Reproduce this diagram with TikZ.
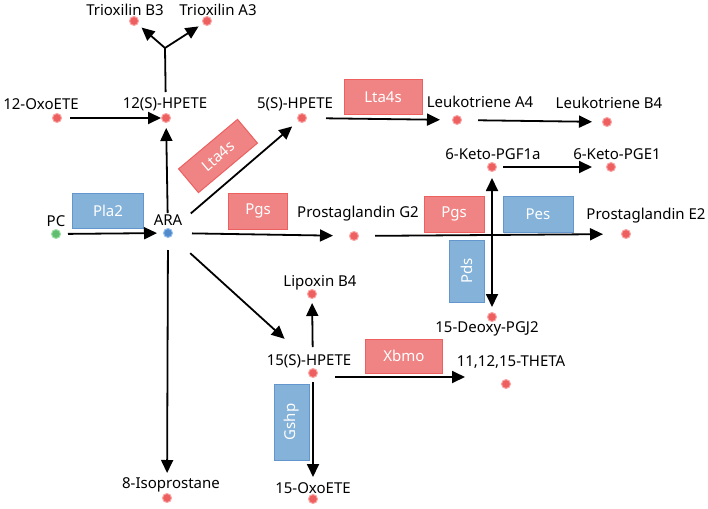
\documentclass[tikz,border=0pt]{standalone}
\usepackage{fontspec}
\setmainfont{Noto Sans}
\usetikzlibrary{arrows.meta}
\definecolor{dotred}{RGB}{238,96,96}
\definecolor{dotredb}{RGB}{250,165,165}
\definecolor{dotgreen}{RGB}{96,190,110}
\definecolor{dotgreenb}{RGB}{160,225,170}
\definecolor{dotblue}{RGB}{80,140,205}
\definecolor{dotblueb}{RGB}{150,190,235}
\definecolor{redfill}{RGB}{240,132,132}
\definecolor{redline}{RGB}{236,96,96}
\definecolor{bluefill}{RGB}{132,178,216}
\definecolor{blueline}{RGB}{98,150,205}
\tikzset{
  dot/.style={circle,fill=dotred,draw=dotredb,line width=1pt,minimum size=9pt,inner sep=0pt},
  lbl/.style={font=\fontsize{15}{17}\selectfont,text=black,inner sep=0pt},
  enz/.style={font=\fontsize{15}{17}\selectfont,text=white,inner sep=0pt,line width=1pt},
  redbox/.style={enz,fill=redfill,draw=redline},
  bluebox/.style={enz,fill=bluefill,draw=blueline},
  arr/.style={line width=1.8pt,-{Triangle[length=13pt,width=12pt]}},
  arrb/.style={line width=1.8pt,{Triangle[length=13pt,width=12pt]}-{Triangle[length=13pt,width=12pt]}},
  ln/.style={line width=1.8pt}
}
\begin{document}
\begin{tikzpicture}[x=1pt,y=-1pt]
\path[use as bounding box,fill=white] (0,0) rectangle (708,508);
% dots
\node[dot] (TB3) at (134,21) {};
\node[dot] (TA3) at (207,21) {};
\node[dot] (Oxo12) at (57,118) {};
\node[dot] (H12) at (166,118) {};
\node[dot] (H5) at (302,118) {};
\node[dot] (LTA4) at (457,120) {};
\node[dot] (LTB4) at (607,122) {};
\node[dot] (KPGF) at (492,167) {};
\node[dot] (KPGE) at (611,167) {};
\node[dot,fill=dotgreen,draw=dotgreenb] (PC) at (56,234) {};
\node[dot,fill=dotblue,draw=dotblueb] (ARA) at (168,233) {};
\node[dot] (PGG2) at (354,236) {};
\node[dot] (PGE2) at (626,234) {};
\node[dot] (LipB4) at (312,294) {};
\node[dot] (DPGJ) at (492,317) {};
\node[dot] (H15) at (313,373) {};
\node[dot] (THETA) at (506,384) {};
\node[dot] (Iso8) at (167,498) {};
\node[dot] (Oxo15) at (313,499) {};
% labels
\node[lbl] (lTB3) at (125,10) {Trioxilin B3};
\node[lbl] (lTA3) at (218,10) {Trioxilin A3};
\node[lbl] (lOxo12) at (41,104) {12-OxoETE};
\node[lbl] (lH12) at (165,104) {12(S)-HPETE};
\node[lbl] (lH5) at (295,104) {5(S)-HPETE};
\node[lbl] (lLTA4) at (480,102) {Leukotriene A4};
\node[lbl] (lLTB4) at (609,103) {Leukotriene B4};
\node[lbl] (lKPGF) at (493,154) {6-Keto-PGF1a};
\node[lbl] (lKPGE) at (617,154) {6-Keto-PGE1};
\node[lbl] (lPC) at (56,221) {PC};
\node[lbl] (lARA) at (168,220) {ARA};
\node[lbl] (lPGG2) at (358,214) {Prostaglandin G2};
\node[lbl] (lPGE2) at (646,216) {Prostaglandin E2};
\node[lbl] (lLipB4) at (320,283) {Lipoxin B4};
\node[lbl] (lDPGJ) at (487,329) {15-Deoxy-PGJ2};
\node[lbl] (lH15) at (309,361) {15(S)-HPETE};
\node[lbl] (lTHETA) at (511,362) {11,12,15-THETA};
\node[lbl] (lIso8) at (171,485) {8-Isoprostane};
\node[lbl] (lOxo15) at (313,488) {15-OxoETE};
% enzyme boxes
\node[bluebox,minimum width=71pt,minimum height=35pt] (Pla2) at (108,211) {Pla2};
\node[redbox,minimum width=77pt,minimum height=31pt,rotate=40] (Lta4sA) at (218,156) {Lta4s};
\node[redbox,minimum width=59pt,minimum height=36pt] (PgsA) at (258,211) {Pgs};
\node[redbox,minimum width=78pt,minimum height=35pt] (Lta4sB) at (383,97) {Lta4s};
\node[redbox,minimum width=60pt,minimum height=36pt] (PgsB) at (454,214) {Pgs};
\node[bluebox,minimum width=70pt,minimum height=36pt] (Pes) at (538,214) {Pes};
\node[bluebox,minimum width=62pt,minimum height=35pt,rotate=90] (Pds) at (467,271) {Pds};
\node[redbox,minimum width=77pt,minimum height=34pt] (Xbmo) at (404,356) {Xbmo};
\node[bluebox,minimum width=76pt,minimum height=35pt,rotate=90] (Gshp) at (292,422) {Gshp};
% connectors
\coordinate (br) at (165,48);
\draw[ln,shorten <=26pt] (H12.center) -- (br);
\draw[arr,shorten >=10pt] (br) -- (TB3.center);
\draw[arr,shorten >=10pt] (br) -- (TA3.center);
\draw[arr,shorten <=13pt,shorten >=5pt] (Oxo12.center) -- (H12.center);
\draw[arr,shorten <=12pt,shorten >=11pt] (PC.center) -- (ARA.center);
\draw[arr,shorten <=20pt,shorten >=10pt] (ARA.center) -- (H12.center);
\draw[arr,shorten <=30pt,shorten >=13pt] (ARA.center) -- (H5.center);
\draw[arr,shorten <=24pt,shorten >=21pt] (ARA.center) -- (PGG2.center);
\draw[arr,shorten <=30pt,shorten >=33pt] (ARA.center) -- (lH15.center);
\draw[arr,shorten <=17pt,shorten >=25pt] (ARA.center) -- (Iso8.center);
\draw[arr,shorten <=24pt,shorten >=17pt] (H5.center) -- (LTA4.center);
\draw[arr,shorten <=21pt,shorten >=15pt] (LTA4.center) -- (LTB4.center);
\draw[arr,shorten <=11pt,shorten >=19pt] (KPGF.center) -- (KPGE.center);
\draw[arr,shorten <=21pt,shorten >=23pt] (PGG2.center) -- (PGE2.center);
\draw[arrb,shorten <=11pt,shorten >=10pt] (KPGF.center) -- (DPGJ.center);
\draw[arr,shorten <=26pt,shorten >=9pt] (H15.center) -- (LipB4.center);
\draw[arr,shorten <=9pt,shorten >=22pt] (H15.center) -- (Oxo15.center);
\draw[arr] ([shift={(22,4)}]H15.center) -- ([shift={(-41,-7)}]THETA.center);
\end{tikzpicture}
\end{document}
